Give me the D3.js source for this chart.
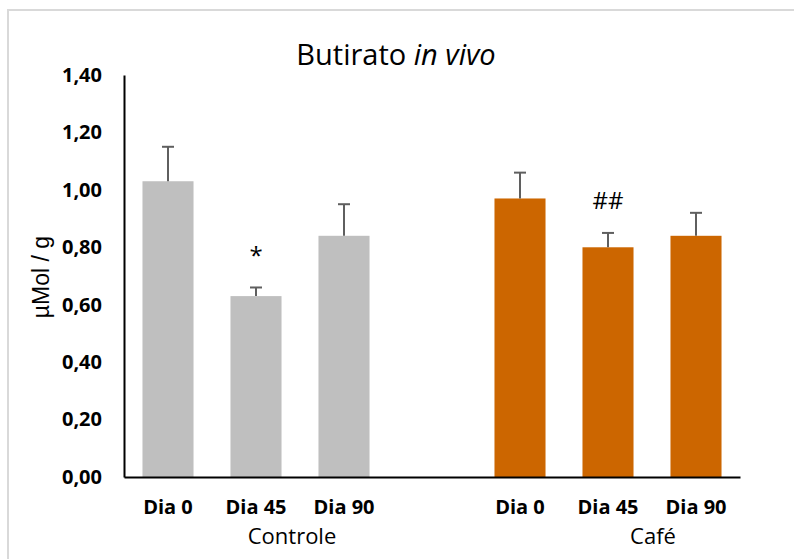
<!DOCTYPE html>
<html>
<head>
<meta charset="utf-8">
<script src="https://cdn.jsdelivr.net/npm/d3@7"></script>
<style>
  html, body { margin: 0; padding: 0; background: #fff; }
  svg { display: block; }
</style>
</head>
<body>
<svg id="chart" width="794" height="559"></svg>
<script>
// Butyrate concentration (µMol/g) per group and sampling day
const groups = ["Controle", "Café"];
const days = ["Dia 0", "Dia 45", "Dia 90"];
const controleValues = [1.03, 0.63, 0.84];
const controleErrors = [0.12, 0.03, 0.11];
const cafeValues = [0.97, 0.80, 0.84];
const cafeErrors = [0.09, 0.05, 0.08];
const controleMarks = ["", "*", ""];
const cafeMarks = ["", "##", ""];
const yTicks = [0, 0.2, 0.4, 0.6, 0.8, 1.0, 1.2, 1.4];

const groupColors = { "Controle": "#bfbfbf", "Café": "#cc6600" };

// Build bar records; an empty slot separates the two groups
const rows = [];
const seriesByGroup = {
  "Controle": { v: controleValues, e: controleErrors, m: controleMarks },
  "Café": { v: cafeValues, e: cafeErrors, m: cafeMarks }
};
groups.forEach(g => {
  days.forEach((d, i) => {
    rows.push({ key: g + "|" + d, group: g, day: d,
      value: seriesByGroup[g].v[i], err: seriesByGroup[g].e[i], mark: seriesByGroup[g].m[i] });
  });
});
const slots = [...days.map(d => "Controle|" + d), "gap", ...days.map(d => "Café|" + d)];

const svg = d3.select("#chart");
const W = 794, H = 559;
const plot = { left: 124, right: 740, top: 75, bottom: 477 };

// Outer chart frame
svg.append("rect")
  .attr("x", 8).attr("y", 10)
  .attr("width", W).attr("height", H)
  .attr("fill", "#fff")
  .attr("stroke", "#d9d9d9").attr("stroke-width", 2);

const x = d3.scaleBand()
  .domain(slots)
  .range([plot.left, plot.right])
  .paddingInner(0.42)
  .paddingOuter(0.21);

const y = d3.scaleLinear()
  .domain([0, 1.4])
  .range([plot.bottom, plot.top]);

// Title
const title = svg.append("text")
  .attr("x", 396).attr("y", 65)
  .attr("text-anchor", "middle")
  .attr("font-family", "'Open Sans', sans-serif")
  .attr("font-size", 29)
  .attr("fill", "#000");
title.append("tspan").text("Butirato ");
title.append("tspan").attr("font-style", "italic").text("in vivo");

// Bars
svg.append("g").selectAll("rect")
  .data(rows)
  .join("rect")
  .attr("x", d => x(d.key))
  .attr("width", x.bandwidth())
  .attr("y", d => y(d.value))
  .attr("height", d => y(0) - y(d.value))
  .attr("fill", d => groupColors[d.group]);

// Upper error bars
const eb = svg.append("g")
  .attr("stroke", "#5f5f5f")
  .attr("stroke-width", 2)
  .attr("fill", "none");
rows.forEach(d => {
  const cx = x(d.key) + x.bandwidth() / 2;
  eb.append("line")
    .attr("x1", cx).attr("x2", cx)
    .attr("y1", y(d.value)).attr("y2", y(d.value + d.err));
  eb.append("line")
    .attr("x1", cx - 6).attr("x2", cx + 6)
    .attr("y1", y(d.value + d.err)).attr("y2", y(d.value + d.err));
});

// Significance marks above the error bars
svg.append("g").selectAll("text")
  .data(rows.filter(d => d.mark))
  .join("text")
  .attr("x", d => x(d.key) + x.bandwidth() / 2)
  .attr("y", d => y(d.value + d.err) - 32)
  .attr("dy", "0.35em")
  .attr("text-anchor", "middle")
  .attr("font-family", "'Open Sans', sans-serif")
  .attr("font-size", 24)
  .attr("fill", "#000")
  .text(d => d.mark);

// Y axis
const yAxis = d3.axisLeft(y)
  .tickValues(yTicks)
  .tickSize(0)
  .tickPadding(22)
  .tickFormat(v => d3.format(".2f")(v).replace(".", ","));
const yg = svg.append("g")
  .attr("transform", `translate(${plot.left},0)`)
  .call(yAxis);
yg.select(".domain").attr("stroke", "#000").attr("stroke-width", 2);
yg.selectAll("text")
  .attr("font-family", "'Open Sans', sans-serif")
  .attr("font-weight", "bold")
  .attr("font-size", 20)
  .attr("fill", "#000");

// X axis with day labels
const xAxis = d3.axisBottom(x)
  .tickSize(0)
  .tickPadding(23)
  .tickFormat(k => k === "gap" ? "" : k.split("|")[1]);
const xg = svg.append("g")
  .attr("transform", `translate(0,${plot.bottom})`)
  .call(xAxis);
xg.select(".domain").attr("stroke", "#000").attr("stroke-width", 2);
xg.selectAll("text")
  .attr("font-family", "'Open Sans', sans-serif")
  .attr("font-weight", "bold")
  .attr("font-size", 20)
  .attr("fill", "#000");

// Group labels below the day labels
const groupLabelX = { "Controle": 292, "Café": 653 };
svg.append("g").selectAll("text")
  .data(groups)
  .join("text")
  .attr("x", g => groupLabelX[g])
  .attr("y", 543.5)
  .attr("text-anchor", "middle")
  .attr("font-family", "'Open Sans', sans-serif")
  .attr("font-size", 22)
  .attr("fill", "#000")
  .text(g => g);

// Y axis title
svg.append("text")
  .attr("transform", "translate(49,277) rotate(-90)")
  .attr("text-anchor", "middle")
  .attr("font-family", "'Liberation Sans', Arial, sans-serif")
  .attr("font-size", 23)
  .attr("fill", "#000")
  .text("µMol / g");
</script>
</body>
</html>
